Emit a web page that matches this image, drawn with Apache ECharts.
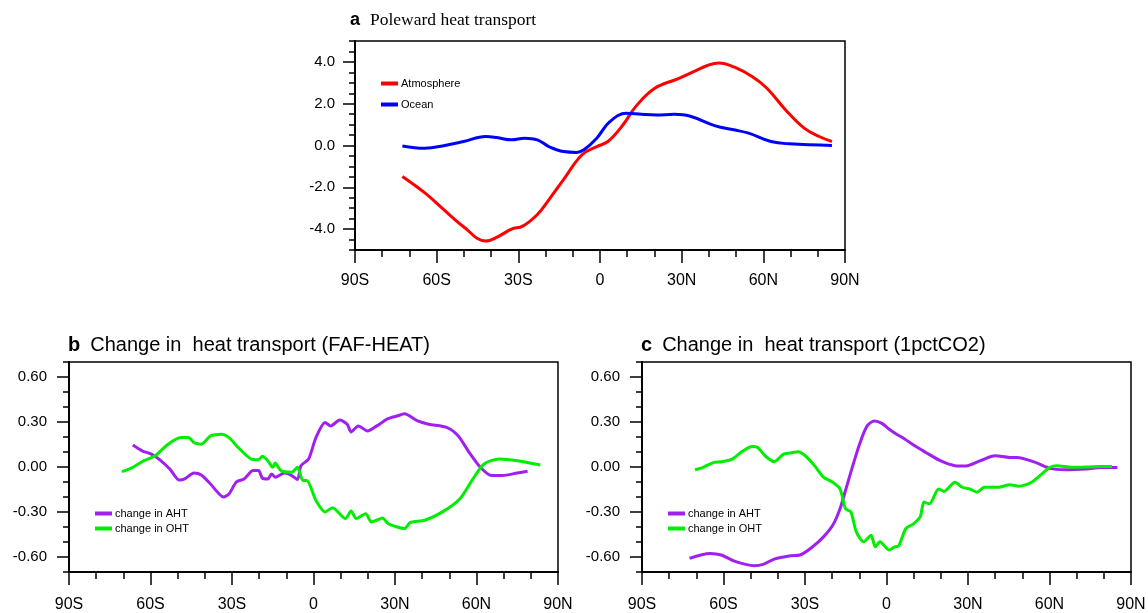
<!DOCTYPE html>
<html>
<head>
<meta charset="utf-8">
<script src="https://cdn.jsdelivr.net/npm/echarts@6/dist/echarts.min.js"></script>
<style>
  html, body { margin: 0; padding: 0; background: #fff; }
  #contain { width: 1148px; height: 613px; }
</style>
</head>
<body>
<div id="contain"></div>
<script>
// 经度刻度
var latTicks = [-90, -60, -30, 0, 30, 60, 90];
var latLabels = ['90S', '60S', '30S', '0', '30N', '60N', '90N'];
var yTicksA = [-4, -2, 0, 2, 4];
var yTicksBC = [-0.6, -0.3, 0, 0.3, 0.6];

// a: Poleward heat transport
var atmLat = [-72.6, -64, -58, -50, -42, -38, -32.5, -28.4, -23, -18.8, -13.4, -6.6, -1.2, 2.9, 8.4, 13.1, 20, 28.8, 34.2, 39.7, 43.7, 49.2, 56, 61.4, 68.2, 75, 80.5, 85.2];
var atmVal = [-1.48, -2.3, -3.0, -3.9, -4.57, -4.4, -4.0, -3.86, -3.3, -2.6, -1.63, -0.44, -0.05, 0.19, 0.98, 1.86, 2.73, 3.2, 3.52, 3.84, 3.95, 3.76, 3.29, 2.73, 1.7, 0.83, 0.43, 0.19];
var ocnLat = [-72.6, -64.4, -57, -50.1, -42, -37.9, -32.5, -27.7, -23, -18.8, -13.4, -8.6, -5.9, -1.2, 3.6, 9.7, 15.2, 20.6, 27.4, 32.9, 42.4, 49.2, 54.6, 62.8, 69.6, 85.2];
var ocnVal = [-0.02, -0.13, 0, 0.19, 0.43, 0.38, 0.27, 0.35, 0.27, -0.05, -0.29, -0.33, -0.2, 0.35, 1.14, 1.54, 1.49, 1.46, 1.49, 1.41, 0.94, 0.75, 0.59, 0.19, 0.08, 0.0];

// b: FAF-HEAT
var ahtLatB = [-66.5, -63.1, -59.7, -56.9, -52.9, -49.5, -47.4, -44, -41.3, -37.9, -33.1, -31.1, -28.4, -25.6, -22.2, -20.2, -18.8, -16.8, -15.4, -14.1, -10.7, -8, -5.9, -4.6, -1.8, 0.9, 4.3, 6.3, 9.7, 12.4, 13.8, 16.5, 19.9, 23.3, 27.4, 30.8, 33.5, 38.3, 42.4, 49.2, 53.3, 57.3, 61.4, 65.5, 69.6, 75, 78.8];
var ahtValB = [0.146, 0.108, 0.086, 0.053, -0.013, -0.086, -0.079, -0.04, -0.053, -0.113, -0.2, -0.18, -0.1, -0.08, -0.024, -0.024, -0.075, -0.08, -0.046, -0.068, -0.04, -0.057, -0.084, 0.009, 0.053, 0.196, 0.296, 0.274, 0.313, 0.285, 0.234, 0.274, 0.24, 0.274, 0.322, 0.34, 0.355, 0.307, 0.285, 0.263, 0.207, 0.097, -0.002, -0.057, -0.057, -0.04, -0.029];
var ohtLatB = [-70.5, -66.5, -62.4, -58.3, -53.5, -48.8, -46, -44, -41.3, -37.9, -33.8, -31.1, -27.7, -22.9, -20.2, -18.8, -16.8, -15, -14.1, -12, -8, -5.9, -3.9, -2.5, 0.9, 4.3, 7, 11.8, 13.8, 15.8, 19.2, 21.3, 23.3, 25.4, 27.4, 30.8, 33.5, 35.6, 41, 47.8, 53.9, 58.7, 62.8, 68.2, 75, 83.5];
var ohtValB = [-0.031, -0.002, 0.042, 0.075, 0.152, 0.196, 0.196, 0.163, 0.152, 0.207, 0.219, 0.196, 0.13, 0.053, 0.049, 0.071, 0.042, -0.002, 0.026, -0.024, -0.035, -0.002, -0.09, -0.09, -0.223, -0.3, -0.271, -0.344, -0.294, -0.344, -0.311, -0.366, -0.355, -0.34, -0.377, -0.4, -0.41, -0.371, -0.355, -0.296, -0.212, -0.079, 0.02, 0.053, 0.042, 0.013];

// c: 1pctCO2
var ahtLatC = [-72.5, -64.9, -60.8, -55.5, -48.7, -45.4, -41.3, -35.3, -31.9, -27.2, -23.2, -19.8, -17.1, -15.1, -12.4, -9.7, -7.1, -4.4, -1.7, 1, 3.7, 6.4, 10.4, 14.5, 19.8, 25.2, 29.2, 34.6, 40, 45.4, 48, 54.8, 60.2, 65.5, 73.6, 79, 85];
var ahtValC = [-0.609, -0.576, -0.587, -0.631, -0.658, -0.649, -0.614, -0.592, -0.587, -0.532, -0.466, -0.389, -0.278, -0.157, 0.009, 0.163, 0.274, 0.307, 0.291, 0.252, 0.219, 0.19, 0.141, 0.097, 0.042, 0.009, 0.007, 0.042, 0.075, 0.064, 0.064, 0.031, -0.009, -0.018, -0.013, -0.004, -0.004];
var ohtLatC = [-70.5, -67.5, -63.5, -60.8, -56.8, -52.8, -49.4, -47.4, -44.7, -41.3, -37.9, -35.3, -32.6, -29.9, -26.5, -23.2, -19.8, -17.1, -15.1, -13.1, -11.1, -8.4, -5.7, -4.1, -2.4, 1, 3, 4.4, 7.1, 9.7, 12.4, 13.8, 15.8, 19.2, 21.2, 25.2, 27.9, 30.6, 33.3, 36, 41.3, 45.4, 48.7, 53.4, 60.2, 62.8, 68.2, 76.3, 83];
var ohtValC = [-0.018, -0.002, 0.031, 0.035, 0.053, 0.108, 0.137, 0.13, 0.075, 0.035, 0.086, 0.093, 0.102, 0.075, 0.009, -0.068, -0.102, -0.146, -0.278, -0.3, -0.433, -0.499, -0.455, -0.532, -0.499, -0.554, -0.532, -0.528, -0.411, -0.382, -0.333, -0.234, -0.245, -0.146, -0.163, -0.102, -0.135, -0.146, -0.168, -0.135, -0.135, -0.119, -0.128, -0.102, -0.002, 0.009, -0.002, 0.002, 0.004];

function pairs(xs, ys) {
    var out = [];
    for (var i = 0; i < xs.length; i++) {
        out.push([xs[i], ys[i]]);
    }
    return out;
}

var font = 'Liberation Sans, Arial, sans-serif';
var black = '#000';

function latLabel(v) {
    var i = latTicks.indexOf(Math.round(v));
    return i > -1 ? latLabels[i] : '';
}

// 每个面板两条x轴: 次刻度(10度) + 主刻度(30度,带标签)
function xAxes(gridIndex, margin) {
    return [{
        type: 'value', gridIndex: gridIndex, min: -90, max: 90, interval: 10, position: 'bottom',
        axisLine: { onZero: false, lineStyle: { color: black, width: 1.5 } },
        axisTick: { length: 7, lineStyle: { color: black, width: 1.5 } },
        axisLabel: { show: false },
        splitLine: { show: false }
    }, {
        type: 'value', gridIndex: gridIndex, min: -90, max: 90, interval: 30, position: 'bottom',
        axisLine: { onZero: false, lineStyle: { color: black, width: 1.5 } },
        axisTick: { length: 13, lineStyle: { color: black, width: 1.5 } },
        axisLabel: { color: black, fontFamily: font, fontSize: 16, margin: margin, formatter: latLabel },
        splitLine: { show: false }
    }];
}

function yAxes(gridIndex, min, max, minor, majors, digits, margin) {
    return [{
        type: 'value', gridIndex: gridIndex, min: min, max: max, interval: minor, position: 'left',
        axisLine: { show: true, onZero: false, lineStyle: { color: black, width: 1.5 } },
        axisTick: { length: 6, lineStyle: { color: black, width: 1.5 } },
        axisLabel: { show: false },
        splitLine: { show: false }
    }, {
        type: 'value', gridIndex: gridIndex, min: min, max: max, position: 'left',
        axisLine: { show: true, onZero: false, lineStyle: { color: black, width: 1.5 } },
        axisTick: { length: 12, customValues: majors, lineStyle: { color: black, width: 1.5 } },
        axisLabel: {
            color: black, fontFamily: font, fontSize: 15, margin: margin, customValues: majors,
            formatter: function (v) { return v.toFixed(digits); }
        },
        splitLine: { show: false }
    }];
}

function line(name, color, xi, data, smooth) {
    return {
        name: name, type: 'line', xAxisIndex: xi, yAxisIndex: xi,
        data: data, showSymbol: false, smooth: smooth,
        lineStyle: { color: color, width: 3 },
        itemStyle: { color: color },
        z: 5
    };
}

var legendBase = {
    orient: 'vertical', icon: 'rect', itemWidth: 17, itemHeight: 4, itemGap: 4,
    textStyle: { fontFamily: font, fontSize: 11, color: black, padding: [0, 0, 0, -2] },
    selectedMode: false
};

var gridBase = { show: true, borderColor: black, borderWidth: 1.5, containLabel: false, outerBoundsMode: 'none' };

function panelTitle(letter, text, left, top, serif) {
    return {
        left: left, top: top,
        text: '{b|' + letter + '}  {n|' + text + '}',
        textStyle: { rich: {
            b: { fontFamily: font, fontWeight: 'bold', fontSize: serif ? 18 : 20, color: black },
            n: {
                fontFamily: serif ? 'Liberation Serif, Times New Roman, serif' : font,
                fontWeight: 'normal', fontSize: serif ? 17.5 : 20, color: black
            }
        } }
    };
}

var option = {
    animation: false,
    backgroundColor: '#fff',
    grid: [
        Object.assign({ left: 355, top: 41, width: 490, height: 209 }, gridBase),
        Object.assign({ left: 69, top: 362, width: 489, height: 210 }, gridBase),
        Object.assign({ left: 642, top: 362, width: 489, height: 210 }, gridBase)
    ],
    xAxis: xAxes(0, 23).concat(xAxes(1, 25), xAxes(2, 25)),
    yAxis: yAxes(0, -5, 5, 0.5, yTicksA, 1, 20)
        .concat(yAxes(1, -0.7, 0.7, 0.1, yTicksBC, 2, 22), yAxes(2, -0.7, 0.7, 0.1, yTicksBC, 2, 22)),
    title: [
        panelTitle('a', 'Poleward heat transport', 345, 6, true),
        panelTitle('b', 'Change in  heat transport (FAF-HEAT)', 63, 330, false),
        panelTitle('c', 'Change in  heat transport (1pctCO2)', 636, 330, false)
    ],
    series: [
        line('Atmosphere', '#ff0000', 1, pairs(atmLat, atmVal), 0.4),
        line('Ocean', '#0000ff', 1, pairs(ocnLat, ocnVal), 0.4),
        line('change in AHT', '#a020f0', 3, pairs(ahtLatB, ahtValB), 0.25),
        line('change in OHT', '#00ee00', 3, pairs(ohtLatB, ohtValB), 0.25),
        line('change in AHT ', '#a020f0', 5, pairs(ahtLatC, ahtValC), 0.3),
        line('change in OHT ', '#00ee00', 5, pairs(ohtLatC, ohtValC), 0.25)
    ]
};

option.legend = [
    Object.assign({}, legendBase, { left: 376, top: 73, itemGap: 10, data: ['Atmosphere', 'Ocean'] }),
    Object.assign({}, legendBase, { left: 90, top: 503, data: ['change in AHT', 'change in OHT'] }),
    Object.assign({}, legendBase, { left: 663, top: 503, data: ['change in AHT ', 'change in OHT '],
        formatter: function (n) { return n.trim(); } })
];

var myChart = echarts.init(document.getElementById('contain'));
myChart.setOption(option);
</script>
</body>
</html>
